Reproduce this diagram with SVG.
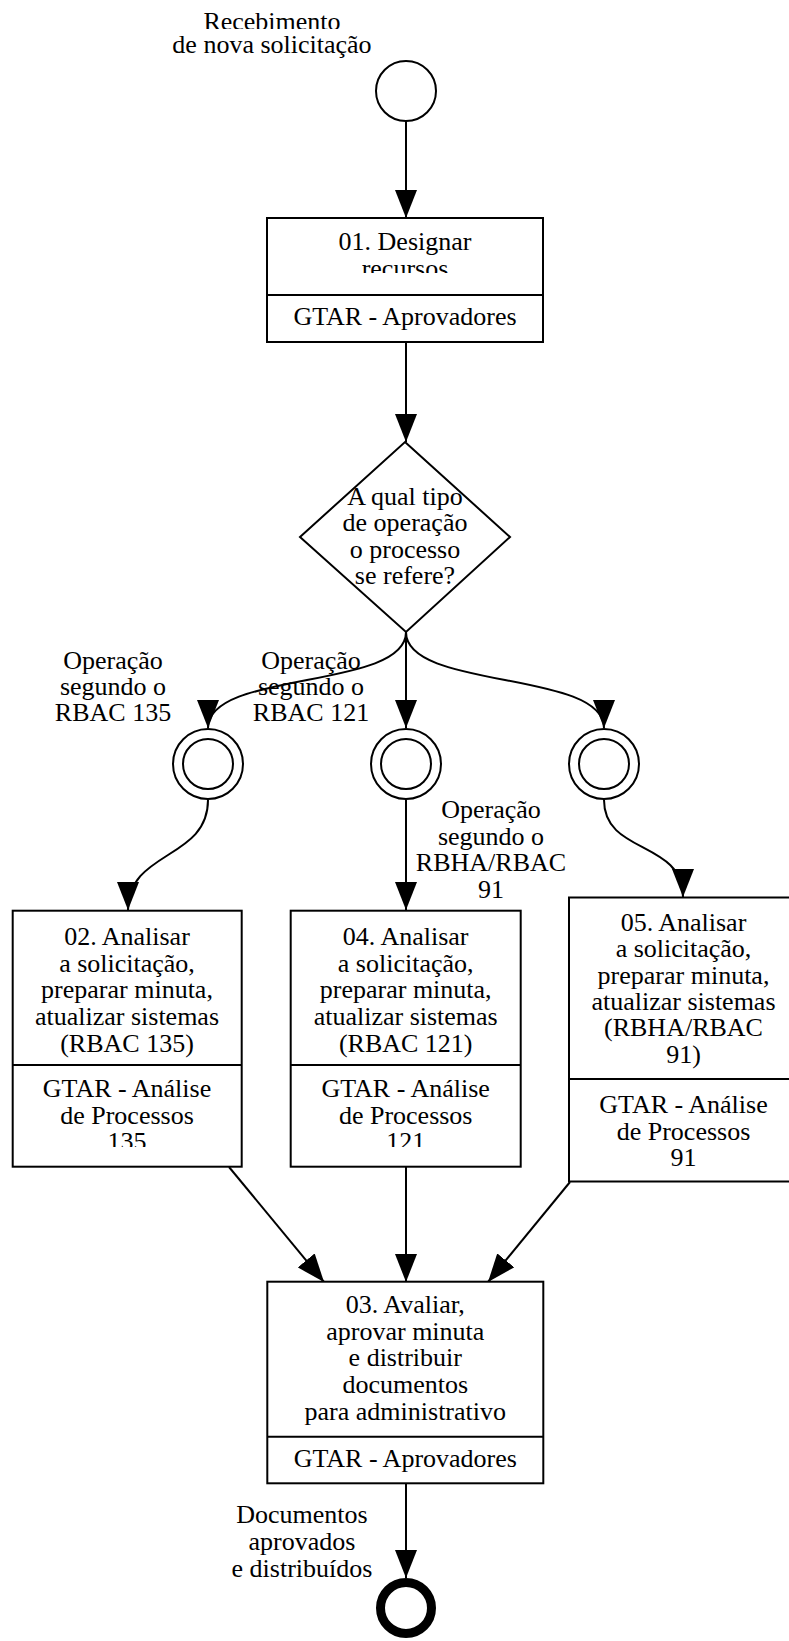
<svg xmlns="http://www.w3.org/2000/svg" width="789" height="1641" viewBox="0 0 789 1641">
<style>
text{font-family:"Liberation Serif","Times New Roman",serif;font-size:26px;fill:#000;text-anchor:middle}
.box{fill:#fff;stroke:#000;stroke-width:2}
.div{stroke:#000;stroke-width:2}
.ev{fill:#fff;stroke:#000;stroke-width:2}
.con{fill:none;stroke:#000;stroke-width:2;marker-end:url(#arr)}
</style>
<defs>
<marker id="arr" markerUnits="userSpaceOnUse" markerWidth="30" markerHeight="22" refX="28" refY="11" orient="auto">
<path d="M0,0 L28,11 L0,22 z" fill="#000"/>
</marker>
<clipPath id="cStart"><path d="M150,0 H400 V29 H150 Z M150,33 H400 V70 H150 Z"/></clipPath>
<clipPath id="c01"><rect x="267" y="218" width="277" height="55"/></clipPath>
<clipPath id="c02"><rect x="12" y="1066" width="230" height="81"/></clipPath>
<clipPath id="c04"><rect x="290" y="1066" width="231" height="81"/></clipPath>
</defs>
<rect width="789" height="1641" fill="#fff"/>
<g id="connectors">
<path class="con" d="M406,121 L406,218"/>
<path class="con" d="M406,342 L406,442"/>
<path class="con" d="M406,632 L406,728"/>
<path class="con" d="M406,632 C406,690 208,670 208,728"/>
<path class="con" d="M406,632 C406,690 604,670 604,728"/>
<path class="con" d="M208,800 C208,860 128,850 128,910"/>
<path class="con" d="M406,800 L406,910"/>
<path class="con" d="M604,800 C604,855 683,840 683,897"/>
<path class="con" d="M229,1167 L324,1282"/>
<path class="con" d="M406,1167 L406,1282"/>
<path class="con" d="M570,1182 L488,1282"/>
<path class="con" d="M406,1483 L406,1578"/>
</g>
<g id="start">
<circle class="ev" cx="406" cy="91" r="30"/>
<g clip-path="url(#cStart)"><text x="272" y="30">Recebimento<tspan x="272" dy="23">de nova solicitação</tspan></text></g>
</g>
<g id="task01">
<rect class="box" x="267" y="218" width="276" height="124"/>
<line class="div" x1="267" y1="295" x2="543" y2="295"/>
<g clip-path="url(#c01)"><text x="405" y="250">01. Designar<tspan x="405" dy="26.5">recursos</tspan></text></g>
<text x="405" y="325">GTAR - Aprovadores</text>
</g>
<g id="gateway">
<polygon points="405,442 510,537 406,632 300,537" fill="#fff" stroke="#000" stroke-width="2"/>
<text x="405" y="505">A qual tipo<tspan x="405" dy="26.3">de operação</tspan><tspan x="405" dy="26.3">o processo</tspan><tspan x="405" dy="26.3">se refere?</tspan></text>
</g>
<g id="ev135">
<circle class="ev" cx="208" cy="764" r="35"/>
<circle class="ev" cx="208" cy="764" r="25"/>
</g>
<g id="ev121">
<circle class="ev" cx="406" cy="764" r="35"/>
<circle class="ev" cx="406" cy="764" r="25"/>
</g>
<g id="ev91">
<circle class="ev" cx="604" cy="764" r="35"/>
<circle class="ev" cx="604" cy="764" r="25"/>
</g>
<g id="labels">
<text x="113" y="669">Operação<tspan x="113" dy="26">segundo o</tspan><tspan x="113" dy="26">RBAC 135</tspan></text>
<text x="311" y="669">Operação<tspan x="311" dy="26">segundo o</tspan><tspan x="311" dy="26">RBAC 121</tspan></text>
<text x="491" y="818">Operação<tspan x="491" dy="26.7">segundo o</tspan><tspan x="491" dy="26.7">RBHA/RBAC</tspan><tspan x="491" dy="26.7">91</tspan></text>
<text x="302" y="1523">Documentos<tspan x="302" dy="27">aprovados</tspan><tspan x="302" dy="27">e distribuídos</tspan></text>
</g>
<g id="task02">
<rect class="box" x="12.7" y="910.7" width="229" height="256"/>
<line class="div" x1="12.7" y1="1065" x2="241.7" y2="1065"/>
<text x="127" y="945">02. Analisar<tspan x="127" dy="26.7">a solicitação,</tspan><tspan x="127" dy="26.7">preparar minuta,</tspan><tspan x="127" dy="26.7">atualizar sistemas</tspan><tspan x="127" dy="26.7">(RBAC 135)</tspan></text>
<g clip-path="url(#c02)"><text x="127" y="1097">GTAR - Análise<tspan x="127" dy="26.5">de Processos</tspan><tspan x="127" dy="26.5">135</tspan></text></g>
</g>
<g id="task04">
<rect class="box" x="290.7" y="910.7" width="230" height="256"/>
<line class="div" x1="290.7" y1="1065" x2="520.7" y2="1065"/>
<text x="405.7" y="945">04. Analisar<tspan x="405.7" dy="26.7">a solicitação,</tspan><tspan x="405.7" dy="26.7">preparar minuta,</tspan><tspan x="405.7" dy="26.7">atualizar sistemas</tspan><tspan x="405.7" dy="26.7">(RBAC 121)</tspan></text>
<g clip-path="url(#c04)"><text x="405.7" y="1097">GTAR - Análise<tspan x="405.7" dy="26.5">de Processos</tspan><tspan x="405.7" dy="26.5">121</tspan></text></g>
</g>
<g id="task05">
<rect class="box" x="569" y="897.5" width="229" height="284"/>
<line class="div" x1="569" y1="1079" x2="798" y2="1079"/>
<text x="683.5" y="931">05. Analisar<tspan x="683.5" dy="26.3">a solicitação,</tspan><tspan x="683.5" dy="26.3">preparar minuta,</tspan><tspan x="683.5" dy="26.3">atualizar sistemas</tspan><tspan x="683.5" dy="26.3">(RBHA/RBAC</tspan><tspan x="683.5" dy="26.3">91)</tspan></text>
<text x="683.5" y="1113">GTAR - Análise<tspan x="683.5" dy="26.5">de Processos</tspan><tspan x="683.5" dy="26.5">91</tspan></text>
</g>
<g id="task03">
<rect class="box" x="267.3" y="1281.7" width="276" height="201.6"/>
<line class="div" x1="267.3" y1="1436.7" x2="543.3" y2="1436.7"/>
<text x="405.3" y="1313">03. Avaliar,<tspan x="405.3" dy="26.7">aprovar minuta</tspan><tspan x="405.3" dy="26.7">e distribuir</tspan><tspan x="405.3" dy="26.7">documentos</tspan><tspan x="405.3" dy="26.7">para administrativo</tspan></text>
<text x="405.3" y="1467">GTAR - Aprovadores</text>
</g>
<g id="end">
<circle cx="406" cy="1608" r="25.5" fill="#fff" stroke="#000" stroke-width="9"/>
</g>
</svg>
